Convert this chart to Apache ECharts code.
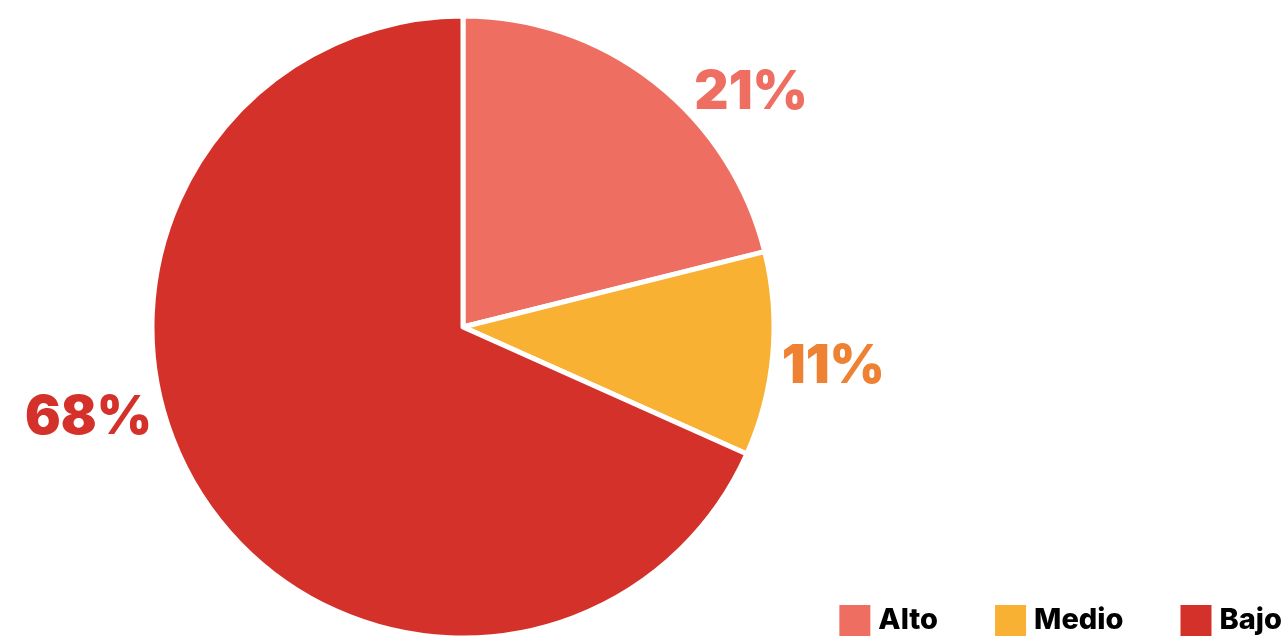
<!DOCTYPE html>
<html>
<head>
<meta charset="utf-8">
<script src="https://cdn.jsdelivr.net/npm/echarts@6/dist/echarts.min.js"></script>
<style>
html,body{margin:0;padding:0;background:#fff;}
#chart{width:1284px;height:638px;}
</style>
</head>
<body>
<div id="chart"></div>
<script>
const categories = ['Alto', 'Medio', 'Bajo'];
const values = [21.1, 10.6, 68.3];
const sliceColors = ['#EE6F61', '#F8B133', '#D33129'];
const labelColors = ['#EE6F61', '#EF8232', '#D33129'];
// label anchor points (fractions of chart width/height)
const labelAnchors = [[0.585, 0.146], [0.649, 0.575], [0.069, 0.655]];

const chart = echarts.init(document.getElementById('chart'));
const FONT = 'Inter, "DejaVu Sans", sans-serif';
chart.setOption({
  backgroundColor: '#ffffff',
  animation: false,
  legend: {
    data: categories,
    right: 2,
    bottom: 0,
    padding: 0,
    itemWidth: 33,
    itemHeight: 33,
    itemGap: 55,
    icon: 'rect',
    textStyle: { fontFamily: FONT, fontSize: 29, fontWeight: 800, color: '#000', padding: [0, 0, 0, 2] }
  },
  series: [{
    type: 'pie',
    center: [463, 327],
    radius: 311,
    startAngle: 90,
    clockwise: true,
    itemStyle: { borderColor: '#fff', borderWidth: 5 },
    label: {
      show: true,
      position: 'outside',
      formatter: p => Math.round(p.value) + '%',
      fontFamily: FONT,
      fontSize: 53,
      fontWeight: 900
    },
    labelLine: { show: false },
    labelLayout: function (p) {
      const a = labelAnchors[p.dataIndex];
      return { x: a[0] * 1284, y: a[1] * 638, align: 'center', verticalAlign: 'middle' };
    },
    emphasis: { disabled: true },
    data: categories.map((c, i) => ({
      name: c,
      value: values[i],
      itemStyle: { color: sliceColors[i] },
      label: { color: labelColors[i] }
    }))
  }]
});
</script>
</body>
</html>
